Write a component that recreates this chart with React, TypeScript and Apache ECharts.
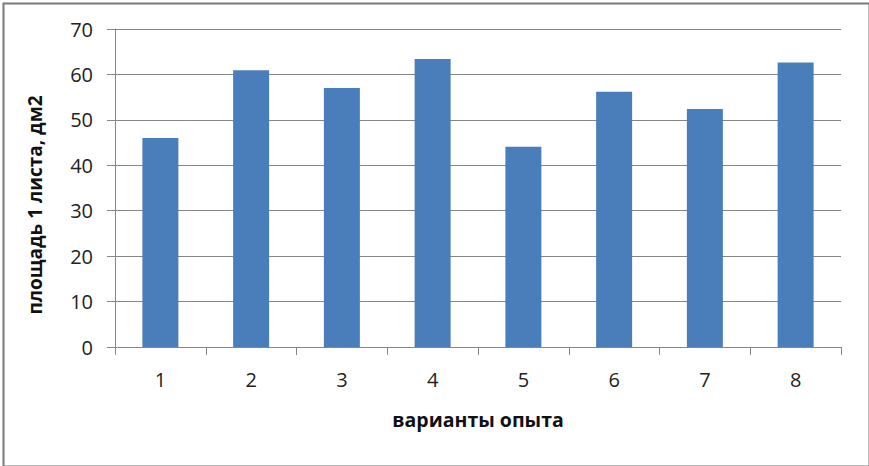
import React, { useEffect, useRef } from "react";
import * as echarts from "echarts";

const categories = ["1", "2", "3", "4", "5", "6", "7", "8"];
const values = [46.0, 60.9, 57.0, 63.4, 44.1, 56.2, 52.4, 62.6];
const xAxisTitle = "варианты опыта";
const yAxisTitle = "площадь 1 листа, дм2";

export default function App() {
  const ref = useRef<HTMLDivElement>(null);
  useEffect(() => {
    if (!ref.current) return;
    const chart = echarts.init(ref.current, null, { renderer: "svg" });
    const font = "'Open Sans', sans-serif";
    chart.setOption({
      animation: false,
      backgroundColor: "#ffffff",
      grid: { left: 115, right: 28, top: 29, bottom: 119, containLabel: false },
      xAxis: {
        type: "category",
        data: categories,
        boundaryGap: true,
        name: xAxisTitle,
        nameLocation: "middle",
        nameGap: 62,
        nameTextStyle: { fontFamily: font, fontSize: 19.5, fontWeight: "bold", color: "#111" },
        axisLine: { lineStyle: { color: "#868686", width: 1 } },
        axisTick: { show: true, length: 8, alignWithLabel: false, lineStyle: { color: "#868686" } },
        axisLabel: { fontFamily: font, fontSize: 20, color: "#222", margin: 22 },
      },
      yAxis: {
        type: "value",
        min: 0,
        max: 70,
        interval: 10,
        axisLine: { show: true, lineStyle: { color: "#868686", width: 1 } },
        axisTick: { show: true, length: 8, lineStyle: { color: "#868686" } },
        axisLabel: { fontFamily: font, fontSize: 20, color: "#222", margin: 22 },
        splitLine: { show: true, lineStyle: { color: "#868686", width: 1 } },
      },
      series: [
        {
          type: "bar",
          data: values,
          barWidth: 36,
          itemStyle: { color: "#4a7ebb" },
        },
      ],
      graphic: [
        {
          type: "rect",
          left: 1,
          top: 1,
          shape: { x: 0, y: 0, width: 866, height: 463 },
          style: { fill: "none", stroke: "#7a7a7a", lineWidth: 2 },
          silent: true,
        },
        {
          type: "text",
          x: 35,
          y: 205,
          rotation: Math.PI / 2,
          style: {
            text: yAxisTitle,
            fontFamily: font,
            fontSize: 19,
            fontWeight: "bold",
            fill: "#111",
            textAlign: "center",
            textVerticalAlign: "middle",
          },
        },
      ],
    });
    return () => chart.dispose();
  }, []);
  return (
    <div
      ref={ref}
      style={{ position: "fixed", left: 0, top: 0, width: 869, height: 466 }}
    />
  );
}
